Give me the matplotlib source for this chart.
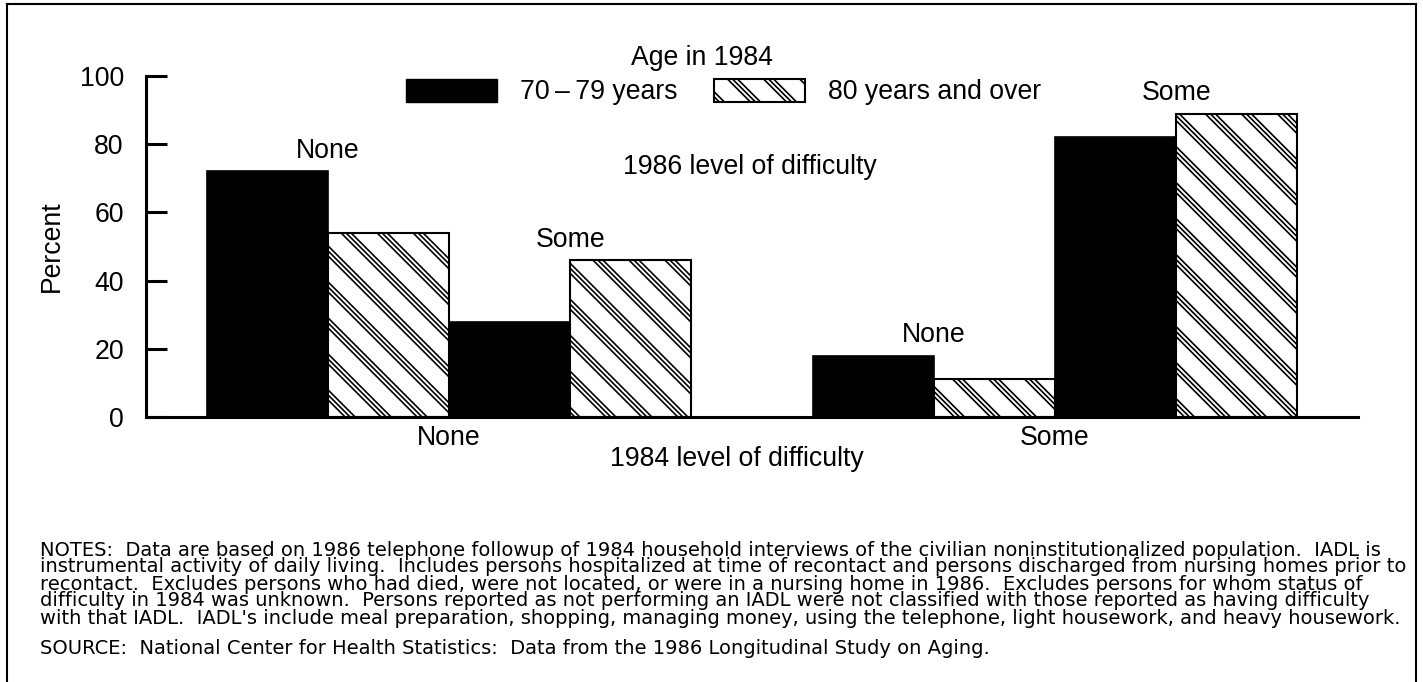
import numpy as np
import matplotlib
matplotlib.use("Agg")
import matplotlib.pyplot as plt
from matplotlib.patches import Rectangle
from matplotlib.lines import Line2D
from matplotlib.legend_handler import HandlerPatch

plt.rcParams['font.family'] = ['Liberation Sans', 'DejaVu Sans']

# data
level_1984 = ['None', 'Some']
level_1986 = ['None', 'Some']
# order: (1984 None, 1986 None), (1984 None, 1986 Some), (1984 Some, 1986 None), (1984 Some, 1986 Some)
pct_70_79 = [72, 28, 18, 82]
pct_80_over = [54, 46, 11, 89]
series_labels = ['70\u2009\u2013\u200979 years', '80 years and over']

notes_lines = [
    "NOTES:  Data are based on 1986 telephone followup of 1984 household interviews of the civilian noninstitutionalized population.  IADL is",
    "instrumental activity of daily living.  Includes persons hospitalized at time of recontact and persons discharged from nursing homes prior to",
    "recontact.  Excludes persons who had died, were not located, or were in a nursing home in 1986.  Excludes persons for whom status of",
    "difficulty in 1984 was unknown.  Persons reported as not performing an IADL were not classified with those reported as having difficulty",
    "with that IADL.  IADL's include meal preparation, shopping, managing money, using the telephone, light housework, and heavy housework.",
]
source_line = "SOURCE:  National Center for Health Statistics:  Data from the 1986 Longitudinal Study on Aging."

FS = 19.2
W, H = 1423, 682
fig = plt.figure(figsize=(W / 100, H / 100), dpi=100)
ax = fig.add_axes([146 / W, 1 - 417 / H, 1212 / W, 341 / H])

xmin, xmax = -0.5, 1.5
bar_w = 0.2

# pair centres: group g, 1986 level l
pair_x = []
for g in range(len(level_1984)):
    for l in range(len(level_1986)):
        pair_x.append(g + (l - 0.5) * 2 * bar_w)
pair_x = np.array(pair_x)

bars_a = ax.bar(pair_x - bar_w / 2, pct_70_79, bar_w, color='black', edgecolor='black', linewidth=1.2, zorder=2)
bars_b = ax.bar(pair_x + bar_w / 2, pct_80_over, bar_w, color='white', edgecolor='black', linewidth=1.5, zorder=2)

ax.set_xlim(xmin, xmax)
ax.set_ylim(0, 100)

# triple diagonal hatch, clipped to each white bar
fig_w_px = fig.get_figwidth() * fig.dpi
fig_h_px = fig.get_figheight() * fig.dpi
pos = ax.get_position()
px_x = pos.width * fig_w_px / (xmax - xmin)
px_y = pos.height * fig_h_px / 100.0
step = 36 / px_x
subs = [0, 5, 10]
for bar in bars_b:
    x0, w, h = bar.get_x(), bar.get_width(), bar.get_height()
    run = h * px_y / px_x
    for k in range(int(np.floor((x0 - run) / step)) - 1, int(np.ceil((x0 + w) / step)) + 1):
        for d in subs:
            s = k * step + d / px_x
            ln, = ax.plot([s, s + run], [h, 0], color='black', lw=1.2, zorder=3)
            ln.set_clip_path(bar)
ax.set_xlim(xmin, xmax)
ax.set_ylim(0, 100)

# 1986 labels over each pair
for i, xc in enumerate(pair_x):
    top = max(pct_70_79[i], pct_80_over[i])
    ax.text(xc, top + 6, level_1986[i % 2], ha='center', va='center', fontsize=FS)

for s in ['top', 'right']:
    ax.spines[s].set_visible(False)
for s in ['left', 'bottom']:
    ax.spines[s].set_linewidth(2.2)

ax.set_yticks([0, 20, 40, 60, 80, 100])
ax.set_xticks(range(len(level_1984)))
ax.set_xticklabels(level_1984)
ax.tick_params(axis='y', direction='in', length=15, width=2.2, labelsize=FS, pad=16)
ax.tick_params(axis='x', length=0, labelsize=FS, pad=6)

ax.set_xlabel('1984 level of difficulty', fontsize=FS, va='top')
ax.xaxis.set_label_coords((737 - 146) / 1212, (417 - 446) / 341)
ax.set_ylabel('Percent', fontsize=FS, va='center')
ax.yaxis.set_label_coords((52 - 146) / 1212, 0.5)


class TripleHatch(HandlerPatch):
    def create_artists(self, legend, orig_handle, xdescent, ydescent, width, height, fontsize, trans):
        x0, y0 = -xdescent, -ydescent
        rect = Rectangle((x0, y0), width, height, facecolor='white', edgecolor='black', lw=1.5, transform=trans)
        arts = [rect]
        for s in np.arange(x0 - height, x0 + width, 26):
            for d in (0, 3.6, 7.2):
                ln = Line2D([s + d, s + d + height], [y0 + height, y0], color='black', lw=1.2, transform=trans)
                ln.set_clip_path(rect)
                arts.append(ln)
        return arts


proxy_a = Rectangle((0, 0), 1, 1, facecolor='black', edgecolor='black')
proxy_b = Rectangle((0, 0), 1, 1, facecolor='white', edgecolor='black')
fig.legend([proxy_a, proxy_b], series_labels, handler_map={proxy_b: TripleHatch()},
           loc='center left', bbox_to_anchor=(406 / W, 1 - 92 / H), ncol=2, frameon=False,
           fontsize=FS, handlelength=65.5 / FS, handleheight=18.7 / FS, handletextpad=16.6 / FS,
           columnspacing=26.5 / FS, borderpad=0, borderaxespad=0)

fig.text(702 / W, 1 - 58 / H, 'Age in 1984', ha='center', va='center', fontsize=FS)
fig.text(750 / W, 1 - 167 / H, '1986 level of difficulty', ha='center', va='center', fontsize=FS)

# notes and source
for i, line in enumerate(notes_lines):
    fig.text(40 / W, 1 - (550 + i * 17) / H, line, ha='left', va='center',
             fontsize=14, family=['DejaVu Sans'])
fig.text(40 / W, 1 - 648 / H, source_line, ha='left', va='center', fontsize=14, family=['DejaVu Sans'])

# outer frame
fig.add_artist(Line2D([7 / W, 7 / W], [0, 1 - 4 / H], transform=fig.transFigure, color='black', lw=1.5))
fig.add_artist(Line2D([7 / W, 1416 / W], [1 - 4 / H, 1 - 4 / H], transform=fig.transFigure, color='black', lw=1.5))
fig.add_artist(Line2D([1416 / W, 1416 / W], [0, 1 - 4 / H], transform=fig.transFigure, color='black', lw=1.5))

fig.savefig('out.png', dpi=100)
